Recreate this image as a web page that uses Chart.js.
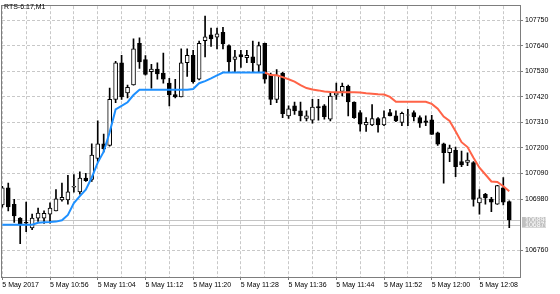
<!DOCTYPE html>
<html>
<head>
<meta charset="utf-8">
<script src="https://cdn.jsdelivr.net/npm/chart.js@4.4.0/dist/chart.umd.min.js"></script>
<style>
  html, body { margin: 0; padding: 0; background: #fff; }
  #chart { display: block; }
</style>
</head>
<body>
<canvas id="chart" width="560" height="294"></canvas>
<script>
// ! DATA (one bar per minute, starting 5 May 2017 10:48)
const symbol = "RTS-6.17,M1";

const opens = [
  106955, 107028, 106957, 106898, 106880, 106856, 106898, 106898, 106915, 106929,
  106976, 106976, 107031, 107011, 107070, 107065, 107155, 107218, 107211, 107409,
  107567, 107437, 107472, 107651, 107581, 107529, 107540, 107522, 107479, 107430,
  107420, 107567, 107599, 107496, 107662, 107687, 107677, 107698, 107641, 107581,
  107602, 107589, 107592, 107557, 107651, 107514, 107409, 107522, 107338, 107381,
  107360, 107327, 107320, 107378, 107381, 107324, 107427, 107444, 107465, 107398,
  107352, 107299, 107299, 107327, 107299, 107352, 107338, 107310, 107341, 107352,
  107331, 107317, 107321, 107265, 107218, 107180, 107190, 107141, 107138, 107137,
  106964, 107000, 106980, 106958, 107028, 106969,
];
const highs = [
  107035, 107049, 106979, 106900, 106967, 106915, 106941, 106929, 106964, 107021,
  107049, 107082, 107086, 107097, 107091, 107218, 107317, 107260, 107458, 107573,
  107599, 107471, 107670, 107674, 107598, 107560, 107567, 107609, 107500, 107496,
  107627, 107627, 107620, 107660, 107768, 107716, 107716, 107719, 107644, 107620,
  107620, 107620, 107660, 107656, 107652, 107522, 107538, 107526, 107382, 107398,
  107398, 107360, 107409, 107409, 107387, 107437, 107479, 107479, 107471, 107399,
  107361, 107331, 107387, 107331, 107360, 107366, 107360, 107355, 107366, 107360,
  107338, 107338, 107341, 107268, 107221, 107213, 107204, 107187, 107179, 107141,
  107021, 107005, 106988, 107039, 107073, 106972,
];
const lows = [
  106945, 106929, 106880, 106788, 106840, 106848, 106884, 106875, 106876, 106929,
  106971, 106958, 107010, 107001, 107056, 107056, 107141, 107183, 107208, 107395,
  107409, 107416, 107471, 107543, 107513, 107458, 107496, 107479, 107381, 107416,
  107420, 107508, 107479, 107493, 107592, 107637, 107627, 107627, 107529, 107529,
  107547, 107567, 107529, 107529, 107479, 107387, 107395, 107331, 107327, 107345,
  107317, 107317, 107307, 107320, 107324, 107317, 107409, 107424, 107338, 107327,
  107272, 107271, 107296, 107268, 107296, 107338, 107313, 107296, 107296, 107317,
  107289, 107296, 107258, 107211, 107049, 107141, 107077, 107120, 107124, 106950,
  106915, 106958, 106926, 106957, 106955, 106857,
];
const closes = [
  107028, 106946, 106908, 106874, 106876, 106898, 106920, 106919, 106941, 106981,
  106988, 107011, 107035, 107070, 107059, 107169, 107218, 107197, 107409, 107567,
  107420, 107461, 107627, 107571, 107517, 107540, 107519, 107496, 107428, 107420,
  107567, 107599, 107486, 107651, 107679, 107670, 107691, 107648, 107571, 107592,
  107592, 107599, 107567, 107641, 107496, 107409, 107514, 107348, 107369, 107360,
  107338, 107338, 107376, 107373, 107335, 107423, 107437, 107465, 107398, 107331,
  107303, 107310, 107327, 107299, 107331, 107338, 107317, 107349, 107343, 107334,
  107307, 107310, 107258, 107216, 107180, 107200, 107120, 107127, 107148, 106979,
  106985, 106985, 106967, 107038, 106967, 106890,
];

// trend line drawn over the candles
const signal = [
  106870, 106870, 106870, 106870, 106870, 106870, 106878, 106880, 106881, 106883,
  106889, 106912, 106963, 106993, 107020, 107073, 107137, 107184, 107268, 107366,
  107381, 107397, 107428, 107451, 107451, 107451, 107451, 107451, 107451, 107451,
  107451, 107451, 107454, 107479, 107488, 107500, 107513, 107525, 107525, 107525,
  107525, 107525, 107525, 107525, 107525, 107514, 107513, 107505, 107496, 107486,
  107471, 107458, 107452, 107448, 107443, 107441, 107440, 107440, 107440, 107440,
  107439, 107436, 107434, 107431, 107430, 107420, 107399, 107399, 107399, 107399,
  107399, 107399, 107390, 107369, 107335, 107316, 107272, 107225, 107204, 107158,
  107115, 107086, 107056, 107054, 107035, 107014,
];
const trendFlip = 44; // blue up to this bar, red after it

const yTicks = [107750, 107640, 107530, 107420, 107310, 107200, 107090, 106980, 106760];
const xTickLabels = [
  "5 May 2017", "5 May 10:56", "5 May 11:04", "5 May 11:12", "5 May 11:20", "5 May 11:28",
  "5 May 11:36", "5 May 11:44", "5 May 11:52", "5 May 12:00", "5 May 12:08",
];
const priceLines = [106890, 106870]; // bid / ask

// ! BUILD DATASETS
const bodies = opens.map((o, i) => ({ x: i, y: [o, closes[i]] }));
const wicks = lows.map((l, i) => ({ x: i, y: [l, highs[i]] }));
const upLine = signal.slice(0, trendFlip + 1).map((v, i) => ({ x: i, y: v }));
const downLine = signal.slice(trendFlip).map((v, i) => ({ x: i + trendFlip, y: v }));

// ! FRAME, TITLE, BID/ASK
const chartDecor = {
  id: "chartDecor",
  beforeDatasetsDraw(chart) {
    const { ctx, chartArea: a, scales } = chart;
    ctx.save();
    ctx.strokeStyle = "#c4c4c4";
    ctx.lineWidth = 1;
    priceLines.forEach((p) => {
      const py = Math.round(scales.y.getPixelForValue(p)) + 0.5;
      ctx.beginPath();
      ctx.moveTo(a.left, py);
      ctx.lineTo(a.right, py);
      ctx.stroke();
    });
    ctx.restore();
  },
  afterDraw(chart) {
    const { ctx, chartArea: a, scales } = chart;
    ctx.save();
    ctx.strokeStyle = "#7d7d7d";
    ctx.lineWidth = 1;
    ctx.strokeRect(Math.round(a.left) - 0.5, Math.round(a.top) - 0.5,
      Math.round(a.right - a.left) + 1, Math.round(a.bottom - a.top) + 1);

    ctx.font = "7px 'Liberation Sans'";
    ctx.fillStyle = "#000";
    ctx.textBaseline = "top";
    ctx.fillText(symbol, 4, 4);

    ctx.textBaseline = "middle";
    priceLines.forEach((p) => {
      const py = scales.y.getPixelForValue(p);
      ctx.fillStyle = "#c0c0c0";
      ctx.fillRect(a.right + 2, py - 3, 24, 6);
      ctx.fillStyle = "#fff";
      ctx.fillText(String(p), a.right + 5, py + 0.5);
    });
    ctx.restore();
  },
};

Chart.defaults.font.family = "'Liberation Sans', Arial, sans-serif";
Chart.defaults.font.size = 7;
Chart.defaults.color = "#000";

// ! CHART
new Chart(document.querySelector("#chart"), {
  type: "bar",
  data: {
    datasets: [
      {
        data: wicks,
        grouped: false,
        barThickness: 1,
        backgroundColor: "#000",
        borderWidth: 0,
        order: 3,
      },
      {
        data: bodies,
        grouped: false,
        barThickness: 4,
        backgroundColor: (c) => (c.raw && c.raw.y[1] >= c.raw.y[0] ? "#fff" : "#000"),
        borderColor: "#000",
        borderWidth: 1,
        borderSkipped: false,
        order: 2,
      },
      {
        type: "line",
        data: upLine,
        borderColor: "#1e90ff",
        borderWidth: 2,
        pointRadius: 0,
        tension: 0,
        order: 1,
      },
      {
        type: "line",
        data: downLine,
        borderColor: "#ff6347",
        borderWidth: 2,
        pointRadius: 0,
        tension: 0,
        order: 1,
      },
    ],
  },
  options: {
    responsive: false,
    animation: false,
    devicePixelRatio: 1,
    layout: { padding: { left: 2, top: 2, right: 0, bottom: 0 } },
    plugins: { legend: { display: false }, tooltip: { enabled: false } },
    scales: {
      x: {
        type: "linear",
        offset: false,
        min: -0.05,
        max: 86.8,
        afterBuildTicks: (scale) => {
          const t = [];
          for (let v = 0; v <= 84; v += 4) t.push({ value: v });
          scale.ticks = t;
        },
        afterFit: (scale) => {
          scale.height = 17;
        },
        ticks: {
          autoSkip: false,
          maxRotation: 0,
          align: "start",
          padding: 1,
          callback: (v) => (v % 8 === 0 ? xTickLabels[v / 8] : ""),
        },
        grid: {
          offset: false,
          color: "#c8c8c8",
          tickLength: 3,
          tickColor: (c) => (c.tick && c.tick.value % 8 === 0 ? "#7d7d7d" : "rgba(0,0,0,0)"),
        },
        border: { display: false, dash: [3, 2] },
      },
      y: {
        position: "right",
        beginAtZero: false,
        min: 106644.5,
        max: 107810.5,
        afterBuildTicks: (scale) => {
          scale.ticks = yTicks.map((v) => ({ value: v }));
        },
        afterFit: (scale) => {
          scale.width = 40;
        },
        ticks: {
          padding: 2,
          callback: (v) => String(v),
        },
        grid: {
          color: "#c8c8c8",
          tickLength: 3,
          tickColor: "#7d7d7d",
        },
        border: { display: false, dash: [3, 2] },
      },
    },
  },
  plugins: [chartDecor],
});
</script>
</body>
</html>
